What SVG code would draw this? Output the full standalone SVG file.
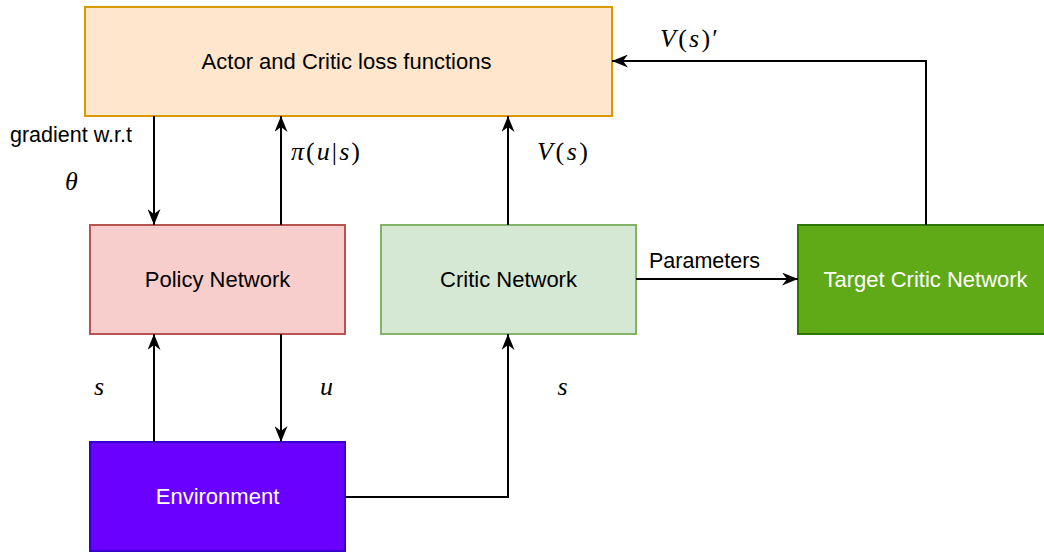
<svg xmlns="http://www.w3.org/2000/svg" width="1044" height="552" viewBox="0 0 1044 552">
  <defs>
    <marker id="arrow" viewBox="0 0 16 13" refX="16" refY="6.5" markerWidth="16" markerHeight="13" markerUnits="userSpaceOnUse" orient="auto">
      <path d="M0,0 L16,6.5 L0,13 L5,6.5 Z" fill="#000"/>
    </marker>
    <style>
      .box { stroke-width: 2; }
      .label { font-family: "Liberation Sans", Arial, sans-serif; font-size: 21.5px; fill: #000; }
      .node-text { font-family: "Liberation Sans", Arial, sans-serif; font-size: 22px; text-anchor: middle; }
      .math { font-family: "Liberation Serif", "Times New Roman", serif; font-size: 26px; fill: #000; }
      .it { font-style: italic; }
      .edge { fill: none; stroke: #000; stroke-width: 2; marker-end: url(#arrow); }
    </style>
  </defs>

  <rect width="1044" height="552" fill="#ffffff"/>

  <!-- nodes -->
  <g id="loss">
    <rect class="box" x="85" y="7" width="527" height="109" fill="#ffe6cc" stroke="#d79b00"/>
    <text class="node-text" x="346.5" y="68.5" fill="#000">Actor and Critic loss functions</text>
  </g>
  <g id="policy">
    <rect class="box" x="90" y="225" width="255" height="109" fill="#f8cecc" stroke="#b85450"/>
    <text class="node-text" x="217.5" y="287" fill="#000">Policy Network</text>
  </g>
  <g id="critic">
    <rect class="box" x="381" y="225" width="255" height="109" fill="#d5e8d4" stroke="#82b366"/>
    <text class="node-text" x="508.5" y="287" fill="#000">Critic Network</text>
  </g>
  <g id="target">
    <rect class="box" x="798" y="225" width="255" height="109" fill="#60a917" stroke="#2d7600"/>
    <text class="node-text" x="925.5" y="287" fill="#ffffff">Target Critic Network</text>
  </g>
  <g id="environment">
    <rect class="box" x="90" y="442" width="255" height="109" fill="#6a00ff" stroke="#3700cc"/>
    <text class="node-text" x="217.5" y="504" fill="#ffffff">Environment</text>
  </g>

  <!-- connectors -->
  <g id="connectors">
    <path class="edge" d="M154,116 L154,225"/>
    <path class="edge" d="M281,225 L281,116"/>
    <path class="edge" d="M508,225 L508,116"/>
    <path class="edge" d="M926,225 L926,61 L612,61"/>
    <path class="edge" d="M636,279 L798,279"/>
    <path class="edge" d="M154,442 L154,334"/>
    <path class="edge" d="M281,334 L281,442"/>
    <path class="edge" d="M345,497 L508,497 L508,334"/>
  </g>

  <!-- connector labels -->
  <g id="labels">
    <text class="label" x="10" y="142">gradient w.r.t</text>
    <text class="math it" x="71.5" y="190" text-anchor="middle">θ</text>
    <text class="math" x="291" y="160" textLength="69" lengthAdjust="spacing"><tspan class="it">π</tspan>(<tspan class="it">u</tspan>|<tspan class="it">s</tspan>)</text>
    <text class="math" x="537" y="160" textLength="51" lengthAdjust="spacing"><tspan class="it">V</tspan>(<tspan class="it">s</tspan>)</text>
    <text class="math" x="660" y="47" textLength="58" lengthAdjust="spacing"><tspan class="it">V</tspan>(<tspan class="it">s</tspan>)′</text>
    <text class="label" x="649" y="268">Parameters</text>
    <text class="math it" x="99" y="395" text-anchor="middle">s</text>
    <text class="math it" x="326.5" y="395" text-anchor="middle">u</text>
    <text class="math it" x="562.5" y="395" text-anchor="middle">s</text>
  </g>
</svg>
